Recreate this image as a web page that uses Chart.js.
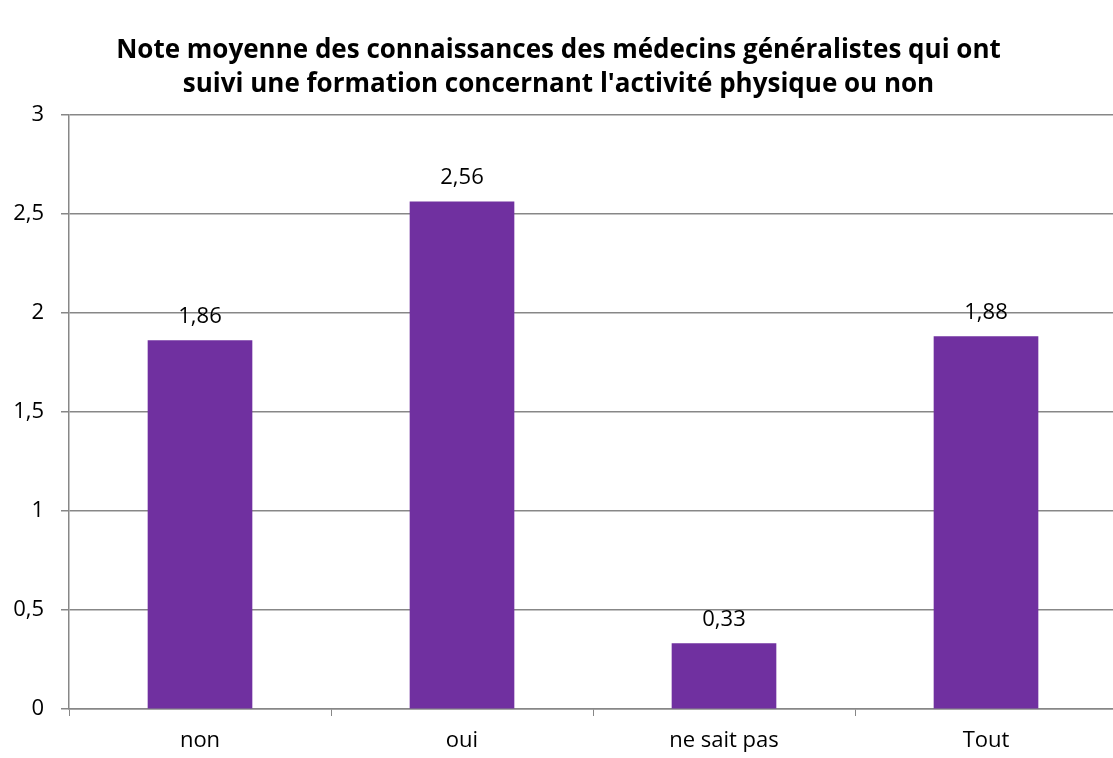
<!DOCTYPE html>
<html>
<head>
<meta charset="utf-8">
<script src="https://cdn.jsdelivr.net/npm/chart.js@4/dist/chart.umd.min.js"></script>
<style>
html,body{margin:0;padding:0;background:#fff;overflow:hidden;width:1113px;height:758px;}
#wrap{position:relative;width:1121px;height:758px;margin-left:-4px;}
</style>
</head>
<body>
<div id="wrap"><canvas id="c" width="1121" height="758"></canvas></div>
<script>
const titleLines = ["Note moyenne des connaissances des médecins généralistes qui ont", "suivi une formation concernant l'activité physique ou non"];
const categories = ["non", "oui", "ne sait pas", "Tout"];
const values = [1.86, 2.56, 0.33, 1.88];
const yMin = 0, yMax = 3, yStep = 0.5;

const fmt = v => String(v).replace('.', ',');
const FONT = "'Open Sans', 'DejaVu Sans', sans-serif";
const GRID = '#878787';

const valueLabels = {
  id: 'valueLabels',
  afterDatasetsDraw(chart) {
    const ctx = chart.ctx;
    const meta = chart.getDatasetMeta(0);
    ctx.save();
    ctx.font = "22px " + FONT;
    ctx.fillStyle = '#000';
    ctx.textAlign = 'center';
    ctx.textBaseline = 'middle';
    meta.data.forEach((bar, i) => {
      ctx.fillText(fmt(chart.data.datasets[0].data[i]), bar.x, bar.y - 24);
    });
    ctx.restore();
  }
};

new Chart(document.getElementById('c'), {
  type: 'bar',
  data: {
    labels: categories,
    datasets: [{
      data: values,
      backgroundColor: '#7030A0',
      borderWidth: 0,
      barThickness: 104
    }]
  },
  options: {
    responsive: false,
    animation: false,
    devicePixelRatio: 1,
    layout: { padding: { left: 4, right: 0, top: 0, bottom: 0 } },
    plugins: {
      legend: { display: false },
      tooltip: { enabled: false },
      title: {
        display: true,
        text: titleLines,
        color: '#000',
        font: { family: FONT, size: 26, weight: 'bold', lineHeight: 1.3 },
        padding: { top: 34, bottom: 13 }
      }
    },
    scales: {
      x: {
        afterFit(scale) { scale.height = 49; },
        grid: { display: true, drawOnChartArea: false, drawTicks: true, tickLength: 7, color: GRID, offset: true },
        border: { display: true, color: GRID, width: 1.5 },
        ticks: { color: '#000', font: { family: FONT, size: 22 }, padding: 12 }
      },
      y: {
        min: yMin, max: yMax,
        afterFit(scale) { scale.width = 69; },
        grid: { display: true, drawTicks: true, tickLength: 8, color: GRID, lineWidth: 1.5 },
        border: { display: true, color: GRID, width: 1.5 },
        ticks: { stepSize: yStep, color: '#000', font: { family: FONT, size: 22 }, padding: 17, callback: v => fmt(v) }
      }
    }
  },
  plugins: [valueLabels]
});
</script>
</body>
</html>
